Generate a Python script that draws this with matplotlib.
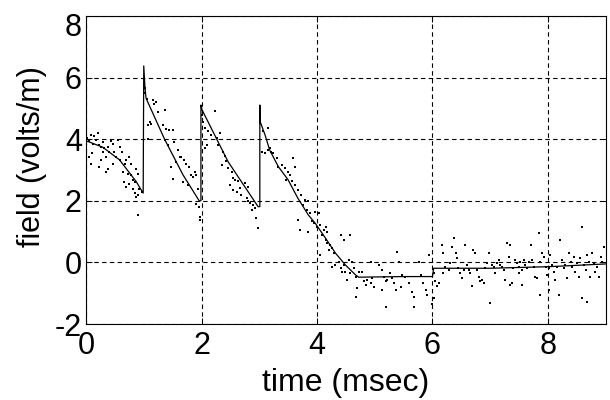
import matplotlib
matplotlib.use('Agg')
import matplotlib.pyplot as plt
from matplotlib.transforms import ScaledTranslation

plt.rcParams['font.family'] = ['Liberation Sans', 'DejaVu Sans']

# model curve (solid line)
line_t = [0.00, 0.29, 0.58, 0.87, 0.99, 1.00, 1.02, 1.04, 1.36, 1.68, 1.96,
          1.99, 1.99, 2.01, 2.46, 2.98, 3.01, 3.01, 3.02, 3.10, 3.18, 3.33,
          3.50, 3.67, 3.85, 3.97, 4.15, 4.32, 4.49, 4.67, 4.72, 5.50, 6.00,
          6.02, 7.00, 8.00, 9.00]
line_v = [3.95, 3.74, 3.33, 2.62, 2.25, 6.38, 5.70, 5.33, 4.00, 2.84, 2.00,
          2.00, 5.11, 4.95, 3.27, 1.81, 1.81, 5.11, 4.55, 4.14, 3.65, 3.11,
          2.68, 2.08, 1.54, 1.27, 0.78, 0.30, -0.08, -0.41, -0.48, -0.46, -0.46,
          -0.19, -0.19, -0.14, -0.05]

# measured samples (dots), grouped by time window
t_0_1 = [0.14, 0.17, 0.12, 0.23, 0.26, 0.32, 0.29, 0.38, 0.40, 0.46, 0.55, 0.58,
         0.49, 0.52, 0.35, 0.26, 0.06, 0.09, 0.23, 0.38, 0.35, 0.46, 0.58, 0.69,
         0.75, 0.78, 0.64, 0.72, 0.78, 0.81, 0.87, 0.90, 0.66, 0.69, 0.75, 0.81,
         0.84, 0.90, 0.87, 0.92, 0.90, 0.02, 0.05, 0.08, 0.10, 0.20, 0.30, 0.44,
         0.62, 0.68, 0.85, 0.97]
v_0_1 = [4.12, 3.96, 3.86, 3.80, 3.75, 3.70, 3.58, 3.75, 3.58, 3.86, 3.96, 3.75,
         3.58, 3.42, 3.42, 3.31, 3.42, 3.20, 3.10, 3.04, 2.94, 3.20, 3.31, 3.31,
         3.42, 3.20, 2.94, 2.88, 2.83, 2.66, 3.04, 2.88, 2.61, 2.45, 2.53, 2.39,
         2.25, 2.18, 2.12, 2.39, 1.53, 4.05, 3.95, 4.15, 3.55, 4.20, 3.90, 3.95,
         3.60, 3.20, 2.60, 2.30]

t_1_2 = [1.01, 1.01, 1.02, 1.02, 1.05, 1.16, 1.21, 1.18, 1.24, 1.10, 1.07, 1.13,
         1.07, 1.36, 1.33, 1.39, 1.44, 1.50, 1.36, 1.42, 1.53, 1.59, 1.62, 1.65,
         1.70, 1.56, 1.47, 1.73, 1.79, 1.85, 1.82, 1.88, 1.91, 1.51, 1.68, 1.76,
         1.94, 1.91, 1.95, 1.97, 1.98]
v_1_2 = [5.95, 5.80, 5.65, 5.50, 5.31, 5.26, 5.21, 5.15, 4.88, 4.56, 4.45, 4.50,
         4.01, 4.94, 4.45, 4.34, 4.29, 4.29, 3.96, 3.80, 3.91, 3.64, 3.42, 3.42,
         3.31, 3.26, 3.10, 3.20, 3.10, 2.77, 2.83, 2.94, 2.83, 2.72, 2.61, 2.50,
         2.39, 1.90, 1.79, 1.48, 1.39]

t_2_3 = [2.00, 2.03, 2.06, 2.11, 2.23, 2.17, 2.26, 2.32, 2.29, 2.09, 2.06, 2.38,
         2.40, 2.43, 2.35, 2.46, 2.52, 2.55, 2.58, 2.63, 2.49, 2.55, 2.61, 2.66,
         2.69, 2.75, 2.81, 2.78, 2.81, 2.84, 2.89, 2.87, 2.92, 2.95, 2.98]
v_2_3 = [4.79, 4.57, 4.36, 4.25, 4.90, 4.14, 4.03, 4.19, 3.82, 3.82, 3.71, 3.60,
         3.44, 3.28, 3.17, 3.06, 2.95, 2.73, 2.68, 2.63, 2.52, 2.36, 2.30, 2.41,
         2.19, 2.57, 2.46, 2.08, 1.98, 1.92, 1.87, 1.71, 1.76, 1.44, 1.11]

t_3_4 = [3.01, 3.07, 3.15, 3.04, 3.10, 3.15, 3.21, 3.18, 3.24, 3.30, 3.33, 3.39,
         3.44, 3.50, 3.59, 3.62, 3.53, 3.47, 3.56, 3.62, 3.67, 3.73, 3.79, 3.85,
         3.76, 3.82, 3.67, 3.88, 3.91, 3.70, 3.85]
v_3_4 = [4.54, 4.25, 4.36, 3.60, 3.55, 3.66, 3.60, 3.71, 3.55, 3.38, 3.11, 3.17,
         3.06, 2.95, 3.38, 3.11, 2.84, 2.68, 2.63, 2.52, 2.36, 2.19, 2.03, 1.98,
         1.87, 1.71, 1.38, 1.60, 1.33, 1.06, 1.00]

t_4_6 = [3.97, 4.03, 3.95, 4.00, 4.06, 4.12, 4.15, 4.18, 4.09, 4.15, 4.18, 4.23,
         4.21, 4.26, 4.29, 4.41, 4.47, 4.58, 4.06, 4.26, 4.32, 4.38, 4.41, 4.47,
         4.49, 4.52, 4.44, 4.55, 4.61, 4.64, 4.58, 4.67, 4.70, 4.67, 4.72, 4.78,
         4.81, 4.84, 4.87, 4.93, 4.95, 4.98, 4.93, 5.07, 5.13, 5.16, 5.19, 5.22,
         5.13, 5.27, 5.30, 5.33, 5.36, 5.39, 5.42, 5.48, 5.45, 5.53, 5.59, 5.65,
         5.68, 5.77, 5.80, 5.83, 5.88, 5.91, 5.94, 5.19, 5.68]
v_4_6 = [1.65, 1.59, 1.27, 1.16, 1.22, 1.06, 1.16, 1.00, 0.89, 0.73, 0.62, 0.57,
         0.41, 0.46, 0.30, 0.89, 0.73, 0.89, 0.24, -0.14, -0.08, 0.02, -0.19, -0.08,
         -0.30, -0.57, -0.30, 0.08, 0.02, -0.19, -0.35, -0.46, -0.84, -1.11, -0.30, -0.30,
         -0.62, -0.73, -0.57, -0.68, -0.52, -0.79, 0.02, -0.08, -0.24, -0.46, -0.62, -0.57,
         -0.89, -0.35, -0.52, -0.68, -0.89, 0.35, 0.02, -0.41, -0.79, -0.46, -0.68, -0.95,
         -1.11, 0.02, -0.41, -0.68, -0.89, -1.06, 0.24, -1.45, -1.45]

t_6_75 = [6.02, 6.05, 6.08, 6.11, 6.02, 5.99, 6.17, 6.19, 6.22, 6.19, 6.28, 6.31,
          6.34, 6.37, 6.40, 6.42, 6.45, 6.48, 6.51, 6.54, 6.57, 6.60, 6.63, 6.65,
          6.68, 6.71, 6.74, 6.77, 6.80, 6.83, 6.86, 6.89, 6.91, 6.94, 6.97, 7.00,
          7.03, 7.06, 7.09, 7.12, 7.15, 7.17, 7.20, 7.23, 7.26, 7.29, 7.32, 7.35,
          7.38, 7.40, 7.43, 7.46, 7.49, 7.35]
v_6_75 = [-0.35, -0.62, -0.78, -0.68, -1.16, -1.35, 0.57, 0.30, -0.14, -0.35, -0.24, -0.03,
          0.51, 0.79, 0.30, 0.13, -0.19, -0.35, -0.51, -0.24, 0.57, -0.08, -0.24, -0.35,
          -0.78, 0.41, 0.30, -0.24, -0.46, -0.62, -0.57, -0.68, -0.19, -0.03, 0.30, -1.33,
          -0.08, -0.14, -0.35, -0.03, 0.08, -0.08, -0.14, -0.24, -0.57, 0.62, 0.19, 0.57,
          -0.68, -0.19, 0.08, -0.03, -0.35, -0.73]

t_75_9 = [7.46, 7.49, 7.52, 7.55, 7.58, 7.61, 7.64, 7.67, 7.70, 7.72, 7.75, 7.78,
          7.81, 7.84, 7.87, 7.90, 7.93, 7.96, 7.98, 8.01, 8.04, 8.07, 8.10, 8.13,
          8.16, 8.19, 8.21, 8.24, 8.27, 8.30, 8.33, 8.36, 8.39, 8.42, 8.45, 8.47,
          8.50, 8.53, 8.56, 8.59, 8.62, 8.65, 8.68, 8.71, 8.73, 8.76, 8.79, 8.82,
          8.85, 8.88, 8.91, 8.94, 8.97, 7.55, 7.87, 8.59, 8.68, 8.01]
v_75_9 = [-0.03, -0.14, 0.02, -0.24, 0.08, -0.08, -0.19, 0.02, 0.57, 0.08, -0.14, -0.46,
          -0.51, 0.95, 0.02, 0.30, 0.19, -0.14, -0.41, -0.19, 0.24, -0.08, -0.30, -0.57,
          -0.14, -1.06, 0.73, 0.08, -0.19, -0.08, -0.51, 0.30, 0.02, -0.14, 0.19, -0.30,
          -0.03, -0.46, 0.13, 1.16, -0.08, -0.24, 0.24, 0.02, -0.46, 0.30, -0.03, -0.30,
          -0.14, -0.46, 0.19, 0.02, 0.51, -0.73, -1.06, -1.16, -1.27, -0.89]

x_ticks = [0, 2, 4, 6, 8]
y_ticks = [-2, 0, 2, 4, 6, 8]


def main():
    fig = plt.figure(figsize=(6.1, 4.0), dpi=100)
    ax = fig.add_axes([0.141, 0.19, 0.852, 0.77])

    windows = [(t_0_1, v_0_1), (t_1_2, v_1_2), (t_2_3, v_2_3), (t_3_4, v_3_4),
               (t_4_6, v_4_6), (t_6_75, v_6_75), (t_75_9, v_75_9)]
    for t, v in windows:
        ax.plot(t, v, linestyle='none', marker='s', markersize=2.0,
                color='black', markeredgewidth=0)

    ax.plot(line_t, line_v, color='black', lw=0.9)

    ax.set_xlim(0, 9)
    ax.set_ylim(-2, 8)
    ax.set_xticks(x_ticks)
    ax.set_yticks(y_ticks)
    ax.set_xticklabels([str(v) for v in x_ticks])
    ax.set_yticklabels([str(v) for v in y_ticks])
    ax.tick_params(axis='both', direction='in', length=4, width=0.7,
                   labelsize=22, top=True, right=True)
    ax.tick_params(axis='x', pad=5)
    ax.tick_params(axis='y', pad=3)
    ax.grid(True, color='black', lw=0.8, linestyle=(0, (4, 3)))
    for sp in ax.spines.values():
        sp.set_linewidth(0.8)

    # MATLAB-style: top label sits a bit low
    down = ScaledTranslation(0, -9 / 100, fig.dpi_scale_trans)
    top_lab = ax.get_yticklabels()[-1]
    top_lab.set_transform(top_lab.get_transform() + down)

    fig.text(32 / 610, 1 - 157 / 400, 'field (volts/m)',
             rotation=90, ha='center', va='center', fontsize=22)
    fig.text(346 / 610, 1 - 383 / 400, 'time (msec)',
             ha='center', va='center', fontsize=23)

    fig.savefig('out.png', dpi=100)
    plt.close(fig)


if __name__ == '__main__':
    main()
